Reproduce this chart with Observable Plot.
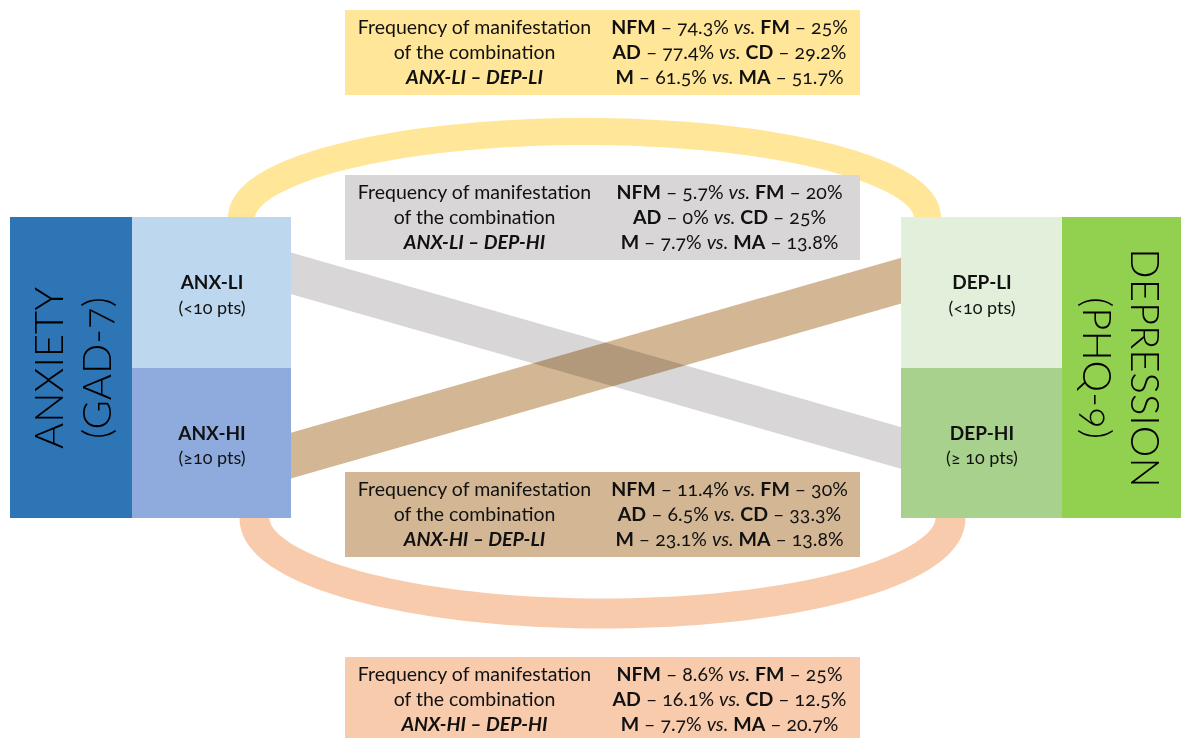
<!DOCTYPE html>
<html>
<head>
<meta charset="utf-8">
<script src="https://cdn.jsdelivr.net/npm/d3@7"></script>
<script src="https://cdn.jsdelivr.net/npm/@observablehq/plot@0.6"></script>
<style>
  html, body { margin: 0; padding: 0; background: #fff; }
  #chart svg { display: block; font-variant-numeric: oldstyle-nums; }
</style>
</head>
<body>
<div id="chart"></div>
<script>
// ---------------- DATA ----------------
const scaleNames = ["ANXIETY\n(GAD-7)", "DEPRESSION\n(PHQ-9)"];
const levelLabels = ["ANX-LI", "ANX-HI", "DEP-LI", "DEP-HI"];
const levelRanges = ["(<10 pts)", "(≥10 pts)", "(<10 pts)", "(≥ 10 pts)"];
const combos = ["ANX-LI – DEP-LI", "ANX-LI – DEP-HI", "ANX-HI – DEP-LI", "ANX-HI – DEP-HI"];
const comboFrom = ["ANX-LI", "ANX-LI", "ANX-HI", "ANX-HI"];
const comboTo = ["DEP-LI", "DEP-HI", "DEP-LI", "DEP-HI"];
const headLines = ["Frequency of manifestation", "of the combination"];
const nfm = ["74.3%", "5.7%", "11.4%", "8.6%"];
const fm  = ["25%", "20%", "30%", "25%"];
const ad  = ["77.4%", "0%", "6.5%", "16.1%"];
const cd  = ["29.2%", "25%", "33.3%", "12.5%"];
const m   = ["61.5%", "7.7%", "23.1%", "7.7%"];
const ma  = ["51.7%", "13.8%", "13.8%", "20.7%"];

// ---------------- LAYOUT / STYLE ----------------
const W = 1181, H = 738;
const FONT = "Lato, 'Open Sans', sans-serif";
const colX = {scaleL: [10, 132], levelL: [132, 291], levelR: [901, 1062], scaleR: [1062, 1181]};
const rowY = {top: 217, mid: 368, bottom: 518};
const levelBox = {
  "ANX-LI": [colX.levelL, [rowY.top, rowY.mid], "#BDD7EE"],
  "ANX-HI": [colX.levelL, [rowY.mid, rowY.bottom], "#8FAADC"],
  "DEP-LI": [colX.levelR, [rowY.top, rowY.mid], "#E2EFDA"],
  "DEP-HI": [colX.levelR, [rowY.mid, rowY.bottom], "#A9D18E"]
};
const comboColor = ["#FFE699", "#D8D6D6", "#D3B794", "#F8CBAD"];
const boxTop = [10, 175, 472, 657];
const boxX = [345, 860];
const boxH = 85;

const rects = [
  {x1: colX.scaleL[0], x2: colX.scaleL[1], y1: rowY.top, y2: rowY.bottom, fill: "#2E75B6"},
  {x1: colX.scaleR[0], x2: colX.scaleR[1], y1: rowY.top, y2: rowY.bottom, fill: "#92D050"},
  ...levelLabels.map(k => ({x1: levelBox[k][0][0], x2: levelBox[k][0][1], y1: levelBox[k][1][0], y2: levelBox[k][1][1], fill: levelBox[k][2]}))
];
const boxes = combos.map((c, i) => ({x1: boxX[0], x2: boxX[1], y1: boxTop[i], y2: boxTop[i] + boxH, fill: comboColor[i]}));

// arcs (same-level combinations): half ellipses between the level boxes
function ellipse(cx, cy, rx, ry, a0, a1, id, color) {
  return d3.range(0, 81).map(j => {
    const a = a0 + (a1 - a0) * j / 80;
    return {x: cx + rx * Math.cos(a), y: cy + ry * Math.sin(a), id, color};
  });
}
const arcPts = [
  ...ellipse(584, rowY.top, 343, 86, Math.PI, 2 * Math.PI, combos[0], comboColor[0]),
  ...ellipse(602, rowY.bottom, 348, 95, 0, Math.PI, combos[3], comboColor[3])
];
const arcWidth = {[combos[0]]: 27, [combos[3]]: 30};

// cross links: anchor offsets (from level-box centre) where each band meets the box edge
const levelCenterY = k => (levelBox[k][1][0] + levelBox[k][1][1]) / 2;
const anchorOffset = {
  [combos[1]]: [-19.5, 4.5],
  [combos[2]]: [12, -12.5]
};
const linkWidth = {[combos[1]]: 40, [combos[2]]: 44};
const crossLinks = [1, 2].map(i => {
  const xa = colX.levelL[1], xb = colX.levelR[0];
  const ya = levelCenterY(comboFrom[i]) + anchorOffset[combos[i]][0];
  const yb = levelCenterY(comboTo[i]) + anchorOffset[combos[i]][1];
  const slope = (yb - ya) / (xb - xa), ext = 12;
  return {x1: xa - ext, y1: ya - slope * ext, x2: xb + ext, y2: yb + slope * ext,
          color: comboColor[i], id: combos[i], w: linkWidth[combos[i]]};
});

// texts
const levelText = levelLabels.map((k, i) => ({
  x: (levelBox[k][0][0] + levelBox[k][0][1]) / 2,
  y: levelCenterY(k), label: k, range: levelRanges[i]
}));
const leftColX = 474, rightColX = 729;
const boxText = [];
combos.forEach((c, i) => {
  const y0 = boxTop[i] + 17;
  boxText.push({x: leftColX, y: y0, t: headLines[0], s: "n"});
  boxText.push({x: leftColX, y: y0 + 25, t: headLines[1], s: "n"});
  boxText.push({x: leftColX, y: y0 + 50, t: c, s: "bi"});
  boxText.push({x: rightColX, y: y0, t: `NFM – ${nfm[i]} vs. FM – ${fm[i]}`, s: "n"});
  boxText.push({x: rightColX, y: y0 + 25, t: `AD – ${ad[i]} vs. CD – ${cd[i]}`, s: "n"});
  boxText.push({x: rightColX, y: y0 + 50, t: `M – ${m[i]} vs. MA – ${ma[i]}`, s: "n"});
});

const plot = Plot.plot({
  width: W, height: H,
  margin: 0,
  x: {domain: [0, W], range: [0, W], axis: null},
  y: {domain: [0, H], range: [0, H], axis: null},
  color: {type: "identity"},
  style: {background: "#fff", fontFamily: FONT},
  marks: [
    Plot.line(arcPts.filter(d => d.id === combos[0]), {x: "x", y: "y", stroke: "color", strokeWidth: arcWidth[combos[0]]}),
    Plot.line(arcPts.filter(d => d.id === combos[3]), {x: "x", y: "y", stroke: "color", strokeWidth: arcWidth[combos[3]]}),
    Plot.link(crossLinks.filter(d => d.id === combos[1]), {x1: "x1", y1: "y1", x2: "x2", y2: "y2", stroke: "color", strokeWidth: d => d.w, strokeLinecap: "butt"}),
    Plot.link(crossLinks.filter(d => d.id === combos[2]), {x1: "x1", y1: "y1", x2: "x2", y2: "y2", stroke: "color", strokeWidth: d => d.w, strokeLinecap: "butt", mixBlendMode: "multiply"}),
    Plot.rect(rects, {x1: "x1", x2: "x2", y1: "y1", y2: "y2", fill: "fill"}),
    Plot.rect(boxes, {x1: "x1", x2: "x2", y1: "y1", y2: "y2", fill: "fill"}),
    Plot.text([scaleNames[0]], {x: (colX.scaleL[0] + colX.scaleL[1]) / 2, y: (rowY.top + rowY.bottom) / 2, text: d => d, rotate: -90, fontSize: 40, fontWeight: 300, lineHeight: 1.2, fill: "#000"}),
    Plot.text([scaleNames[1]], {x: (colX.scaleR[0] + colX.scaleR[1]) / 2, y: (rowY.top + rowY.bottom) / 2, text: d => d, rotate: 90, fontSize: 40, fontWeight: 300, lineHeight: 1.2, fill: "#000"}),
    Plot.text(levelText, {x: "x", y: d => d.y - 10, text: "label", fontSize: 19, fontWeight: "bold", fill: "#111"}),
    Plot.text(levelText, {x: "x", y: d => d.y + 15, text: "range", fontSize: 18, fill: "#111"}),
    Plot.text(boxText.filter(d => d.s === "n"), {x: "x", y: "y", text: "t", fontSize: 19.5, fill: "#111"}),
    Plot.text(boxText.filter(d => d.s === "bi"), {x: "x", y: "y", text: "t", fontSize: 19.5, fontWeight: "bold", fontStyle: "italic", fill: "#111"})
  ]
});

// rich formatting of the statistics lines (bold keys, italic "vs.")
plot.querySelectorAll("text").forEach(t => {
  const s = t.textContent;
  const r = s.match(/^(\S+) – (\S+) vs\. (\S+) – (\S+)$/);
  if (!r) return;
  t.textContent = "";
  const parts = [[r[1], "b"], [" – " + r[2] + " ", ""], ["vs.", "i"], [" ", ""], [r[3], "b"], [" – " + r[4], ""]];
  parts.forEach(([txt, st]) => {
    const ts = document.createElementNS("http://www.w3.org/2000/svg", "tspan");
    ts.textContent = txt;
    if (st === "b") ts.setAttribute("font-weight", "bold");
    if (st === "i") ts.setAttribute("font-style", "italic");
    t.appendChild(ts);
  });
  t.style.whiteSpace = "pre";
});

document.getElementById("chart").appendChild(plot);
</script>
</body>
</html>
